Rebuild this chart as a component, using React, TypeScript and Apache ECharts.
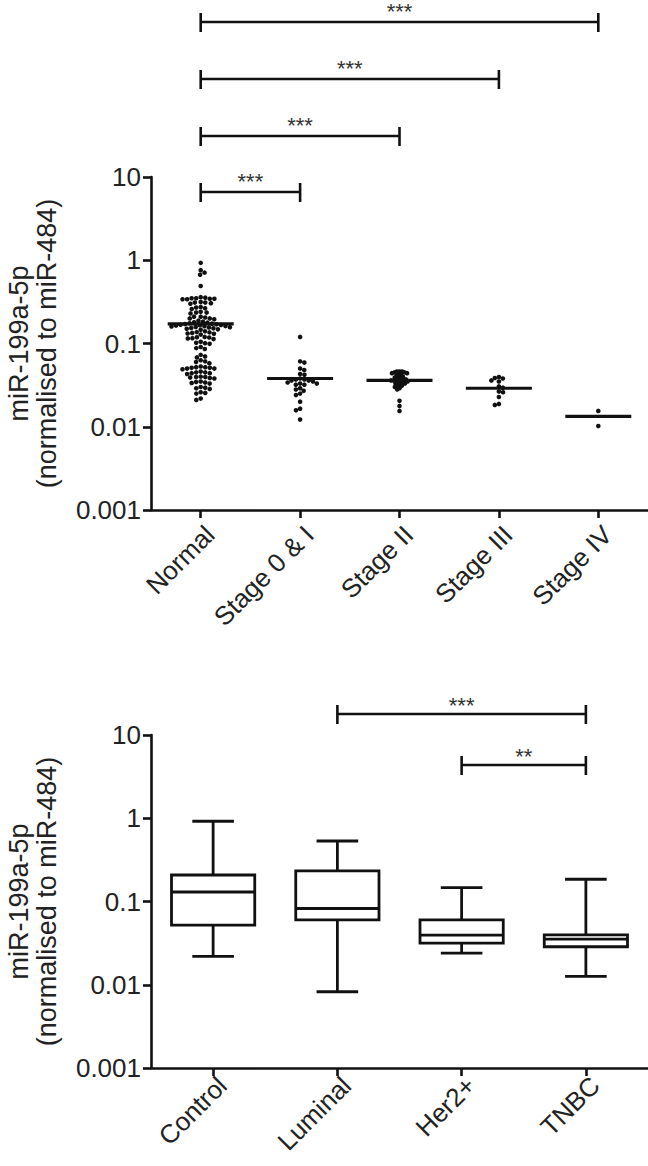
import React, { useEffect, useRef } from 'react';
import * as echarts from 'echarts';

const FONT = '"Liberation Sans", Arial, Helvetica, sans-serif';

const stageCategories = ['Normal', 'Stage 0 & I', 'Stage II', 'Stage III', 'Stage IV'];
const subtypeCategories = ['Control', 'Luminal', 'Her2+', 'TNBC'];
const yTicks = [0.001, 0.01, 0.1, 1, 10];
const yTickLabels = ['0.001', '0.01', '0.1', '1', '10'];
const yTitle = 'miR-199a-5p\n(normalised to miR-484)';

const normalValues = [
  0.93, 0.76, 0.71, 0.67, 0.49,
  0.36, 0.355, 0.35, 0.345, 0.34, 0.345, 0.35, 0.34,
  0.315, 0.31, 0.305, 0.3, 0.31,
  0.275, 0.27, 0.265, 0.26,
  0.24, 0.235, 0.23, 0.235,
  0.21, 0.205, 0.2, 0.21, 0.2, 0.195,
  0.188, 0.183, 0.18, 0.178, 0.175, 0.173, 0.17, 0.168, 0.166, 0.164, 0.162, 0.16, 0.158,
  0.156, 0.154, 0.152, 0.15, 0.148, 0.146, 0.171, 0.167, 0.161, 0.157,
  0.14, 0.137, 0.134, 0.131, 0.128, 0.136, 0.132,
  0.12, 0.118, 0.116, 0.113, 0.119, 0.115,
  0.105, 0.102, 0.099, 0.101,
  0.091, 0.088, 0.086,
  0.073, 0.07, 0.068,
  0.063, 0.061, 0.06, 0.058,
  0.053, 0.052, 0.051, 0.05, 0.052, 0.049, 0.051, 0.05,
  0.046, 0.045, 0.044, 0.045, 0.044, 0.043,
  0.04, 0.0395, 0.039, 0.038, 0.0395, 0.0385,
  0.035, 0.0345, 0.034, 0.0335, 0.033,
  0.03, 0.0295, 0.029, 0.0285,
  0.026, 0.0255, 0.025,
  0.0218, 0.021,
];
const stage0IValues = [
  0.12, 0.061, 0.059, 0.05, 0.048, 0.043, 0.042, 0.038, 0.037, 0.037, 0.036, 0.036,
  0.035, 0.034, 0.033, 0.033, 0.032, 0.032, 0.029, 0.028, 0.027, 0.025, 0.024,
  0.02, 0.0165, 0.0158, 0.0122,
];
const stageIIValues = [
  0.046, 0.045, 0.046, 0.044, 0.045, 0.044, 0.046, 0.043,
  0.041, 0.04, 0.042, 0.039, 0.04,
  0.038, 0.037, 0.037, 0.036, 0.036, 0.035, 0.037, 0.036, 0.035,
  0.034, 0.033, 0.034, 0.032, 0.033,
  0.031, 0.03, 0.031, 0.029, 0.028,
  0.0205, 0.0178, 0.0155,
];
const stageIIIValues = [0.0395, 0.038, 0.0385, 0.036, 0.035, 0.0305, 0.0295, 0.0265, 0.026, 0.0228, 0.0188, 0.0183];
const stageIVValues = [0.0155, 0.0102];
const stageMedians = [0.172, 0.038, 0.036, 0.029, 0.0133];

// [min, Q1, median, Q3, max]
const controlBox = [0.0219, 0.052, 0.13, 0.208, 0.92];
const luminalBox = [0.00824, 0.06, 0.0824, 0.233, 0.533];
const her2Box = [0.024, 0.0316, 0.0394, 0.06, 0.147];
const tnbcBox = [0.0126, 0.0286, 0.0353, 0.0398, 0.185];

// [from category, to category, label]
const stageBrackets: [number, number, string][] = [
  [0, 1, '***'],
  [0, 2, '***'],
  [0, 3, '***'],
  [0, 4, '***'],
];
const subtypeBrackets: [number, number, string][] = [
  [1, 3, '***'],
  [2, 3, '**'],
];

// layout (pixels)
const stageBracketOffsets = [15, -41, -98, -155];
const subtypeBracketOffsets = [-21, 30];
const swarmSpacing = [4.6, 4.4, 2.6, 4.2, 4.6];

const INK = '#111';
const TEXT = '#222';
const Y_MAX = yTicks[yTicks.length - 1];
const Y_MIN = yTicks[0];

function swarmOffsets(ys: number[], d: number): number[] {
  const order = ys.map((_, i) => i).sort((a, b) => ys[a] - ys[b]);
  const placed: { x: number; y: number }[] = [];
  const out = new Array(ys.length).fill(0);
  order.forEach((idx, k) => {
    const y = ys[idx];
    const intervals: [number, number][] = [];
    for (const p of placed) {
      const dy = Math.abs(p.y - y);
      if (dy < d) {
        const w = Math.sqrt(d * d - dy * dy);
        intervals.push([p.x - w, p.x + w]);
      }
    }
    const cands = [0];
    intervals.forEach(([a, b]) => cands.push(a, b));
    let best = 0;
    let bestAbs = Infinity;
    for (const c of cands) {
      if (intervals.some(([a, b]) => c > a + 1e-6 && c < b - 1e-6)) continue;
      const ab = Math.abs(c);
      const pref = k % 2 === 0 ? c > best : c < best;
      if (ab < bestAbs - 1e-6 || (Math.abs(ab - bestAbs) < 1e-6 && pref)) {
        best = c;
        bestAbs = ab;
      }
    }
    out[idx] = best;
    placed.push({ x: best, y });
  });
  return out;
}

const stageGroups = [normalValues, stage0IValues, stageIIValues, stageIIIValues, stageIVValues];
const dotData = stageGroups.flatMap((vals, ci) => vals.map((v) => [ci, v]));
const boxData = [controlBox, luminalBox, her2Box, tnbcBox].map((b, i) => [i, ...b]);

function yLabel(v: number) {
  const e = Math.round(Math.log10(v));
  const i = yTicks.findIndex((t) => Math.round(Math.log10(t)) === e);
  return i >= 0 ? yTickLabels[i] : '';
}

function makeXAxis(gridIndex: number, data: string[], margin: number, pad: number) {
  return {
    type: 'category',
    gridIndex,
    data,
    boundaryGap: true,
    axisLine: { show: true, lineStyle: { color: INK, width: 2.6 } },
    axisTick: { show: true, alignWithLabel: true, length: 8, lineStyle: { color: INK, width: 2.6 } },
    axisLabel: {
      interval: 0,
      rotate: 45,
      align: 'right',
      verticalAlign: 'top',
      padding: [pad, 0, 0, 0],
      margin,
      fontSize: 26,
      color: TEXT,
      fontFamily: FONT,
    },
    splitLine: { show: false },
  };
}

function makeYAxis(gridIndex: number) {
  return {
    type: 'log',
    logBase: 10,
    gridIndex,
    min: Y_MIN,
    max: Y_MAX,
    axisLine: { show: true, lineStyle: { color: INK, width: 2.6 } },
    axisTick: { show: true, length: 8, lineStyle: { color: INK, width: 2.6 } },
    minorTick: { show: false },
    axisLabel: { fontSize: 26, color: TEXT, margin: 10, fontFamily: FONT, formatter: yLabel },
    splitLine: { show: false },
    name: yTitle,
    nameLocation: 'middle',
    nameRotate: 90,
    nameGap: 90,
    nameMoveOverlap: false,
    nameTextStyle: { fontSize: 27, lineHeight: 28, color: TEXT, fontFamily: FONT, align: 'center' },
  };
}

function bracketSeries(
  xAxisIndex: number,
  yAxisIndex: number,
  brackets: [number, number, string][],
  offsets: number[],
  starGap: number
) {
  return {
    type: 'custom',
    xAxisIndex,
    yAxisIndex,
    clip: false,
    silent: true,
    data: brackets.map((b, i) => [b[0], b[1], i, Y_MAX]),
    encode: { x: [0, 1], y: 3 },
    renderItem: (params: any, api: any) => {
      const from = api.value(0);
      const to = api.value(1);
      const level = api.value(2);
      const top = api.coord([from, Y_MAX])[1];
      const x1 = api.coord([from, Y_MAX])[0];
      const x2 = api.coord([to, Y_MAX])[0];
      const y = top + offsets[level];
      const ls = { stroke: INK, lineWidth: 2.6 };
      return {
        type: 'group',
        children: [
          { type: 'line', shape: { x1, y1: y, x2, y2: y }, style: ls },
          { type: 'line', shape: { x1, y1: y - 9, x2: x1, y2: y + 10 }, style: ls },
          { type: 'line', shape: { x1: x2, y1: y - 9, x2, y2: y + 10 }, style: ls },
          {
            type: 'text',
            style: {
              text: brackets[params.dataIndex][2],
              x: (x1 + x2) / 2,
              y: y - starGap,
              align: 'center',
              verticalAlign: 'middle',
              fontSize: 22,
              lineHeight: 20,
              fontFamily: FONT,
              fill: '#333',
            },
          },
        ],
      };
    },
  };
}

export default function App() {
  const ref = useRef<HTMLDivElement>(null);
  useEffect(() => {
    const chart = echarts.init(ref.current!, undefined, { renderer: 'svg' });
    let swarm: number[] | null = null;

    const option: any = {
      animation: false,
      backgroundColor: '#fff',
      textStyle: { fontFamily: FONT },
      grid: [
        { left: 151, top: 177, width: 497, height: 333, containLabel: false, outerBoundsMode: 'none' },
        { left: 151, top: 735, width: 497, height: 333, containLabel: false, outerBoundsMode: 'none' },
      ],
      xAxis: [makeXAxis(0, stageCategories, 11, 0), makeXAxis(1, subtypeCategories, 4, 0)],
      yAxis: [makeYAxis(0), makeYAxis(1)],
      series: [
        {
          type: 'custom',
          xAxisIndex: 0,
          yAxisIndex: 0,
          clip: false,
          silent: true,
          data: dotData,
          encode: { x: 0, y: 1 },
          renderItem: (params: any, api: any) => {
            if (params.dataIndex === 0 || !swarm) {
              const all: number[] = new Array(dotData.length).fill(0);
              let base = 0;
              stageGroups.forEach((vals, ci) => {
                const ys = vals.map((v) => api.coord([ci, v])[1]);
                const offs = swarmOffsets(ys, swarmSpacing[ci]);
                offs.forEach((o, j) => (all[base + j] = o));
                base += vals.length;
              });
              swarm = all;
            }
            const [cx, cy] = api.coord([api.value(0), api.value(1)]);
            return {
              type: 'circle',
              shape: { cx: cx + swarm[params.dataIndex], cy, r: 2.3 },
              style: { fill: INK },
            };
          },
        },
        {
          type: 'custom',
          xAxisIndex: 0,
          yAxisIndex: 0,
          silent: true,
          data: stageMedians.map((m, i) => [i, m]),
          encode: { x: 0, y: 1 },
          renderItem: (_params: any, api: any) => {
            const [cx, cy] = api.coord([api.value(0), api.value(1)]);
            return {
              type: 'rect',
              shape: { x: cx - 33, y: cy - 1.6, width: 66, height: 3.2 },
              style: { fill: INK },
            };
          },
        },
        bracketSeries(0, 0, stageBrackets, stageBracketOffsets, 11),
        {
          type: 'custom',
          xAxisIndex: 1,
          yAxisIndex: 1,
          silent: true,
          data: boxData,
          encode: { x: 0, y: [1, 2, 3, 4, 5] },
          renderItem: (_params: any, api: any) => {
            const ci = api.value(0);
            const vals = [1, 2, 3, 4, 5].map((i) => api.value(i));
            const pts = vals.map((v) => api.coord([ci, v]));
            const x = pts[0][0];
            const band = Math.abs(api.coord([1, vals[2]])[0] - api.coord([0, vals[2]])[0]);
            const hw = band * 0.335;
            const cw = hw / 2;
            const [yMin, yQ1, yMed, yQ3, yMax] = pts.map((p: number[]) => p[1]);
            const ls = { stroke: INK, lineWidth: 2.8 };
            return {
              type: 'group',
              children: [
                { type: 'line', shape: { x1: x, y1: yMax, x2: x, y2: yQ3 }, style: ls },
                { type: 'line', shape: { x1: x, y1: yQ1, x2: x, y2: yMin }, style: ls },
                { type: 'line', shape: { x1: x - cw, y1: yMax, x2: x + cw, y2: yMax }, style: ls },
                { type: 'line', shape: { x1: x - cw, y1: yMin, x2: x + cw, y2: yMin }, style: ls },
                {
                  type: 'rect',
                  shape: { x: x - hw, y: yQ3, width: hw * 2, height: yQ1 - yQ3 },
                  style: { fill: '#fff', stroke: INK, lineWidth: 2.8 },
                },
                { type: 'line', shape: { x1: x - hw, y1: yMed, x2: x + hw, y2: yMed }, style: ls },
              ],
            };
          },
        },
        bracketSeries(1, 1, subtypeBrackets, subtypeBracketOffsets, 9),
      ],
    };
    chart.setOption(option);
    return () => chart.dispose();
  }, []);
  return (
    <div
      ref={ref}
      style={{ position: 'absolute', left: 0, top: 0, width: 648, height: 1166, background: '#fff' }}
    />
  );
}
